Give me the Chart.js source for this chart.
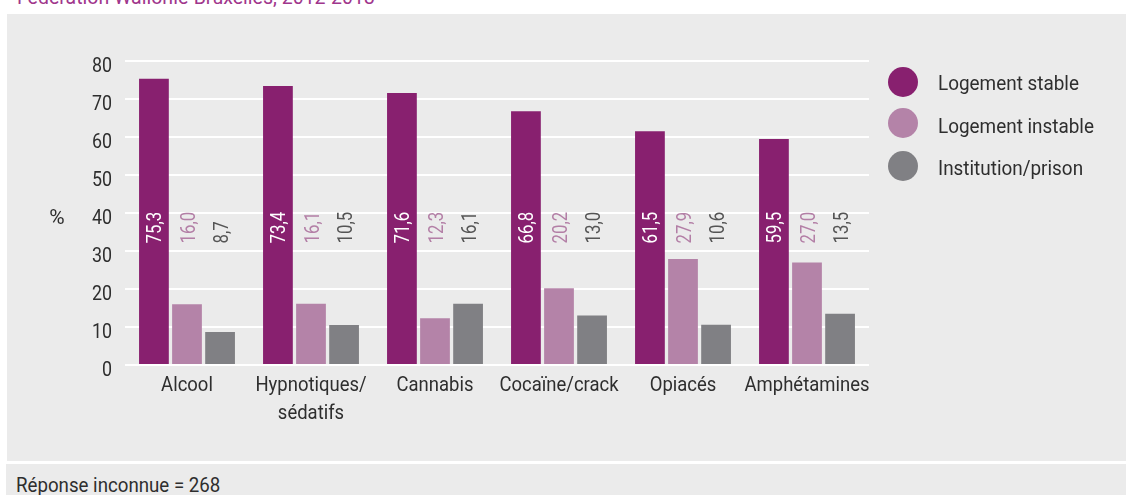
<!DOCTYPE html>
<html lang="fr">
<head>
    <meta charset="UTF-8">
    <title>Logement selon le produit</title>
    <style>
        body { margin: 0; width: 1126px; height: 495px; overflow: hidden; background: #fff; position: relative;
               font-family: Roboto, "Liberation Sans", sans-serif; font-size: 21px; }
        .squeeze { display: inline-block; transform: scaleX(0.89); transform-origin: 0 0; white-space: nowrap; line-height: 21px; }
        #title { position: absolute; left: 17px; top: -15px; color: #a0368c; }
        #title .squeeze { transform: scaleX(0.93); }
        #panel { position: absolute; left: 7px; top: 14px; right: 0; height: 447px; background: #ebebeb; }
        #foot { position: absolute; left: 6px; top: 464px; right: 0; bottom: 0; background: #ebebeb; color: #2e2e2e; }
        #foot .squeeze { position: absolute; left: 10px; top: 11px; }
        #mychart { position: absolute; left: 0; top: 0; }
    </style>
</head>
<body>
    <div id="title"><span class="squeeze">Fédération Wallonie-Bruxelles, 2012-2013</span></div>
    <div id="panel"></div>
    <div id="foot"><span class="squeeze">Réponse inconnue = 268</span></div>
    <canvas id="mychart" width="1126" height="495"></canvas>

    <script src="https://cdn.jsdelivr.net/npm/chart.js"></script>
    <script>
        // data
        var categories = ['Alcool', ['Hypnotiques/', 'sédatifs'], 'Cannabis', 'Cocaïne/crack', 'Opiacés', 'Amphétamines'];
        var seriesNames = ['Logement stable', 'Logement instable', 'Institution/prison'];
        var stable = [75.3, 73.4, 71.6, 66.8, 61.5, 59.5];
        var instable = [16.0, 16.1, 12.3, 20.2, 27.9, 27.0];
        var prison = [8.7, 10.5, 16.1, 13.0, 10.6, 13.5];
        var yTicks = [0, 10, 20, 30, 40, 50, 60, 70, 80];

        var colors = ['#88206f', '#b483a8', '#808084'];
        var labelColors = ['#ffffff', '#b37fa6', '#555555'];
        var FONT = '21px Roboto, "Liberation Sans", sans-serif';

        // the original uses a condensed face; squeeze Roboto horizontally
        function squeezed(ctx, str, x, y, align, sx) {
            ctx.save();
            ctx.translate(x, y);
            ctx.scale(sx, 1);
            ctx.textAlign = align;
            ctx.textBaseline = 'alphabetic';
            ctx.fillText(str, 0, 0);
            ctx.restore();
        }

        function fmt(v) {
            return v.toFixed(1).replace('.', ',');
        }

        var extras = {
            id: 'extras',
            afterDatasetsDraw(chart) {
                var ctx = chart.ctx;
                var x = chart.scales.x;
                var y = chart.scales.y;
                var anchorY = y.getPixelForValue(32);
                ctx.save();
                ctx.font = FONT;

                // y tick labels
                ctx.fillStyle = '#2e2e2e';
                yTicks.forEach(function (v) {
                    squeezed(ctx, String(v), 112, y.getPixelForValue(v) + 11, 'right', 0.85);
                });
                squeezed(ctx, '%', 57, y.getPixelForValue(40) + 10.5, 'center', 1);

                // category labels
                categories.forEach(function (c, i) {
                    var lines = Array.isArray(c) ? c : [c];
                    lines.forEach(function (ln, k) {
                        squeezed(ctx, ln, x.getPixelForValue(i), y.bottom + 26 + k * 28, 'center', 0.88);
                    });
                });

                // rotated value labels
                chart.data.datasets.forEach(function (ds, i) {
                    var meta = chart.getDatasetMeta(i);
                    meta.data.forEach(function (bar, j) {
                        ctx.save();
                        ctx.translate(bar.x, anchorY);
                        ctx.rotate(-Math.PI / 2);
                        ctx.fillStyle = labelColors[i];
                        squeezed(ctx, fmt(ds.data[j]), 0, 7.5, 'left', 0.8);
                        ctx.restore();
                    });
                });

                // legend
                var circleY = [82, 123, 166];
                var textY = [90, 133, 175];
                seriesNames.forEach(function (name, i) {
                    ctx.beginPath();
                    ctx.arc(903, circleY[i], 15, 0, Math.PI * 2);
                    ctx.fillStyle = colors[i];
                    ctx.fill();
                    ctx.fillStyle = '#2e2e2e';
                    squeezed(ctx, name, 938, textY[i], 'left', 0.9);
                });
                ctx.restore();
            }
        };

        new Chart(document.getElementById('mychart'), {
            type: 'bar',
            data: {
                labels: categories,
                datasets: [
                    { label: seriesNames[0], data: stable, backgroundColor: colors[0] },
                    { label: seriesNames[1], data: instable, backgroundColor: colors[1] },
                    { label: seriesNames[2], data: prison, backgroundColor: colors[2] }
                ]
            },
            options: {
                responsive: false,
                animation: false,
                layout: { padding: { left: 0, right: 257, top: 61, bottom: 70 } },
                plugins: { legend: { display: false }, tooltip: { enabled: false } },
                datasets: { bar: { categoryPercentage: 0.8, barPercentage: 0.9 } },
                scales: {
                    x: {
                        grid: { display: false, drawTicks: false },
                        border: { display: false },
                        ticks: { display: false },
                        afterFit: function (s) { s.height = 60; }
                    },
                    y: {
                        min: 0, max: 80,
                        afterBuildTicks: function (s) { s.ticks = yTicks.map(function (v) { return { value: v }; }); },
                        grid: { color: '#ffffff', lineWidth: 2, drawTicks: false },
                        border: { display: false },
                        ticks: { display: false },
                        afterFit: function (s) { s.width = 125; }
                    }
                }
            },
            plugins: [extras]
        });
    </script>
</body>
</html>
